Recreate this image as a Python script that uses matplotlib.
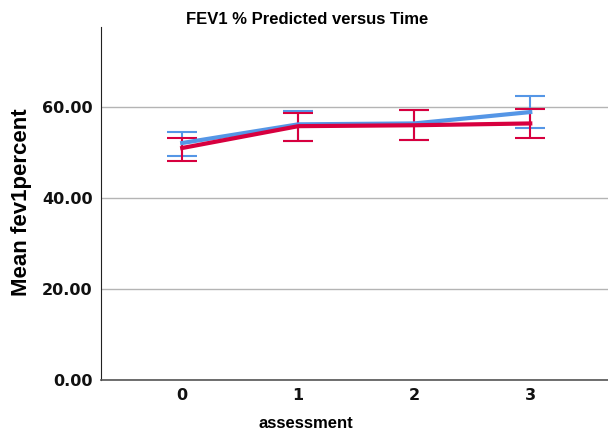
import matplotlib
matplotlib.use("agg")
import matplotlib.pyplot as plt

# Data
assessment = [0, 1, 2, 3]
blue_mean = [52.1, 56.2, 56.4, 58.9]
blue_low = [49.2, 52.6, 52.7, 55.5]
blue_high = [54.6, 59.1, 59.3, 62.4]
red_mean = [51.0, 55.8, 56.0, 56.4]
red_low = [48.1, 52.6, 52.7, 53.3]
red_high = [53.3, 58.8, 59.3, 59.5]

blue = "#5596e6"
red = "#d7003f"

plt.rcParams["font.family"] = ["Liberation Sans", "DejaVu Sans"]
plt.rcParams["font.weight"] = "bold"

fig = plt.figure(figsize=(6.08, 4.32), dpi=100)
ax = fig.add_axes([101 / 608, 52 / 432, 507 / 608, 353 / 432])


def draw(mean, low, high, color):
    yerr = [[m - l for m, l in zip(mean, low)], [h - m for m, h in zip(mean, high)]]
    ax.errorbar(assessment, mean, yerr=yerr, color=color, lw=3, elinewidth=1.5,
                capsize=10.5, capthick=1.5, zorder=3)


draw(blue_mean, blue_low, blue_high, blue)
draw(red_mean, red_low, red_high, red)

ax.set_xlim(-0.7, 3.67)
ax.set_ylim(0, 77.6)
ax.set_yticks([0, 20, 40, 60])
ax.set_yticklabels(["0.00", "20.00", "40.00", "60.00"])
ax.set_xticks(assessment)
ax.yaxis.grid(True, color="#b4b4b4", lw=1)
ax.set_axisbelow(True)
ax.tick_params(length=0, labelsize=11.5, pad=6)
for lbl in ax.get_xticklabels() + ax.get_yticklabels():
    lbl.set_fontweight("bold")
    lbl.set_family(["DejaVu Sans"])
    lbl.set_color("#111111")
for s in ["top", "right"]:
    ax.spines[s].set_visible(False)
ax.spines["left"].set_color("#222222")
ax.spines["bottom"].set_color("#555555")
ax.spines["bottom"].set_linewidth(1.2)

fig.text(307 / 608, 1 - 20 / 432, "FEV1 % Predicted versus Time", fontsize=12,
         fontweight="bold", ha="center", va="center")
fig.text(306 / 608, 1 - 423 / 432, "assessment", fontsize=12,
         fontweight="bold", ha="center", va="center")
fig.text(22 / 608, 1 - 202 / 432, "Mean fev1percent", fontsize=16,
         fontweight="bold", ha="center", va="center", rotation=90)

plt.savefig("out.png", dpi=100)
